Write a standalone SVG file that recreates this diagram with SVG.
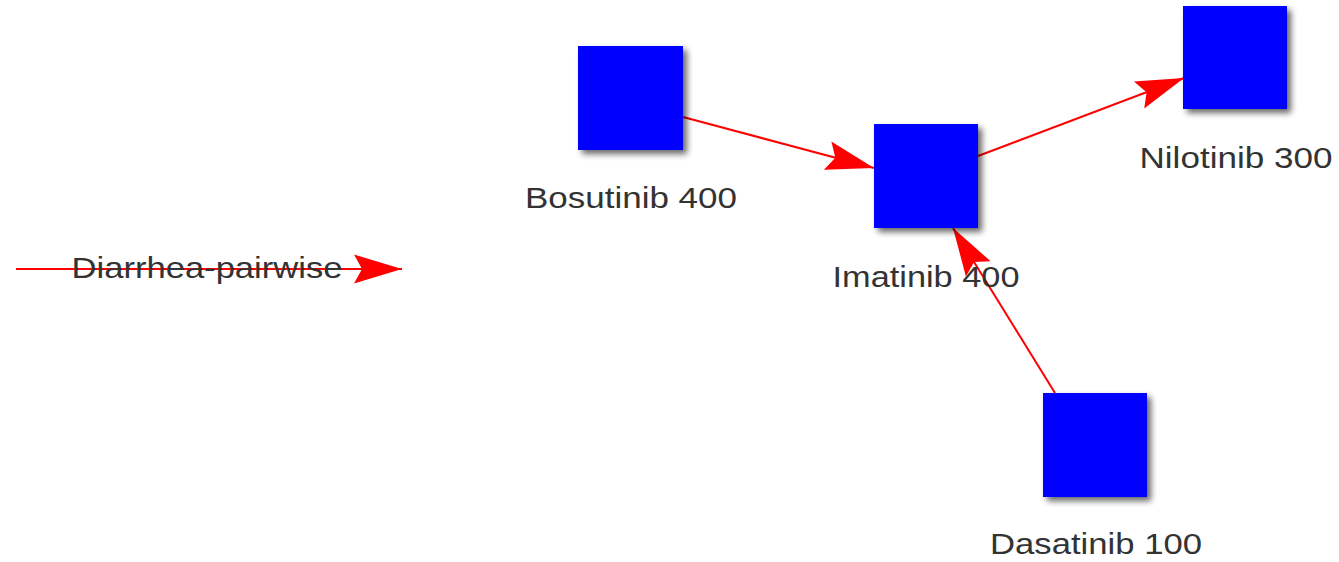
<svg xmlns="http://www.w3.org/2000/svg" width="1339" height="562" viewBox="0 0 1339 562">
  <style>
    .node rect { fill: #0000ff; filter: url(#shadow); }
    .label { font-family: "Liberation Sans", Arial, sans-serif; font-size: 29px; fill: #333333; text-anchor: middle; }
    .edge { stroke: #ff0000; stroke-width: 2; fill: none; marker-end: url(#arrow); }
  </style>
  <defs>
    <filter id="shadow" x="-20%" y="-20%" width="150%" height="150%">
      <feGaussianBlur in="SourceAlpha" stdDeviation="3"/>
      <feOffset dx="4" dy="4" result="blur"/>
      <feComponentTransfer><feFuncA type="linear" slope="0.6"/></feComponentTransfer>
      <feMerge><feMergeNode/><feMergeNode in="SourceGraphic"/></feMerge>
    </filter>
    <marker id="arrow" markerUnits="userSpaceOnUse" viewBox="-50 -16 52 32" markerWidth="52" markerHeight="32" refX="0" refY="0" orient="auto">
      <path d="M0,0 L-48,-14.5 L-40,0 L-48,14.5 Z" fill="#ff0000"/>
    </marker>
  </defs>

  <!-- legend -->
  <g id="legend">
    <line class="edge" x1="16" y1="269" x2="402" y2="269"/>
    <text class="label" x="207" y="278" textLength="271" lengthAdjust="spacingAndGlyphs">Diarrhea-pairwise</text>
  </g>

  <!-- connectors -->
  <g id="edges">
    <line class="edge" x1="683" y1="117" x2="874" y2="168"/>
    <line class="edge" x1="978" y1="156" x2="1184" y2="78"/>
    <line class="edge" x1="1055" y1="393" x2="953" y2="228"/>
  </g>

  <!-- nodes -->
  <g id="bosutinib" class="node">
    <rect x="578" y="46" width="105" height="104"/>
    <text class="label" x="631" y="208" textLength="212" lengthAdjust="spacingAndGlyphs">Bosutinib 400</text>
  </g>
  <g id="imatinib" class="node">
    <rect x="874" y="124" width="104" height="104"/>
    <text class="label" x="926" y="287" textLength="187" lengthAdjust="spacingAndGlyphs">Imatinib 400</text>
  </g>
  <g id="nilotinib" class="node">
    <rect x="1183" y="6" width="104" height="103"/>
    <text class="label" x="1236" y="168" textLength="193" lengthAdjust="spacingAndGlyphs">Nilotinib 300</text>
  </g>
  <g id="dasatinib" class="node">
    <rect x="1043" y="393" width="104" height="104"/>
    <text class="label" x="1096" y="554" textLength="212" lengthAdjust="spacingAndGlyphs">Dasatinib 100</text>
  </g>
</svg>
